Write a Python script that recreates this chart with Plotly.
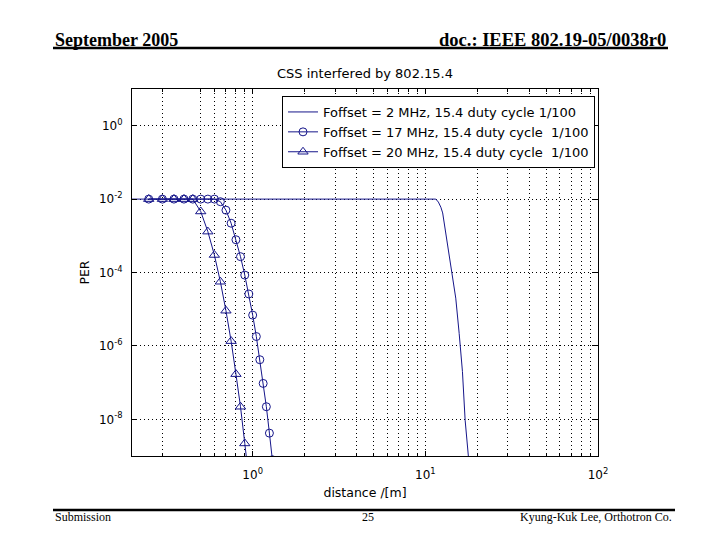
import plotly.graph_objects as go

# ---------------- data ----------------
# Foffset = 2 MHz (line only)
dist_2mhz = [0.2, 11.5, 11.9, 12.3, 12.6, 13.4, 14.2, 15.0, 15.7, 16.4, 17.0, 17.9, 18.3]
per_2mhz = [1e-2, 1e-2, 8.3e-3, 6.0e-3, 4.2e-3, 6.3e-4, 9.5e-5, 2.0e-5, 2.2e-6, 2.0e-7, 9.5e-9, 1.0e-9, 2.0e-10]

# Foffset = 17 MHz (circles)
dist_17mhz = [0.25, 0.30, 0.35, 0.40, 0.45, 0.50, 0.55, 0.60, 0.65, 0.70, 0.75, 0.80,
              0.85, 0.90, 0.95, 1.00, 1.05, 1.10, 1.15, 1.20, 1.25, 1.30]
per_17mhz = [1e-2, 1e-2, 1e-2, 1e-2, 1e-2, 1e-2, 1e-2, 1e-2, 8.5e-3, 5.0e-3, 2.2e-3, 7.8e-4,
             2.7e-4, 8.5e-5, 2.6e-5, 6.9e-6, 1.8e-6, 4.2e-7, 9.5e-8, 2.2e-8, 4.2e-9, 7.9e-10]

# Foffset = 20 MHz (triangles)
dist_20mhz = [0.25, 0.30, 0.35, 0.40, 0.45, 0.50, 0.55, 0.60, 0.65, 0.70, 0.75, 0.80,
              0.85, 0.90, 0.95]
per_20mhz = [1e-2, 1e-2, 1e-2, 1e-2, 1e-2, 4.6e-3, 1.3e-3, 3.0e-4, 5.6e-5, 9.1e-6, 1.35e-6, 1.7e-7,
             2.2e-8, 2.2e-9, 2.5e-10]

series_names = [
    "Foffset = 2 MHz, 15.4 duty cycle 1/100",
    "Foffset = 17 MHz, 15.4 duty cycle\u00a0 1/100",
    "Foffset = 20 MHz, 15.4 duty cycle\u00a0 1/100",
]

x_tickvals = [1, 10, 100]
x_ticktext = ["10<sup>0</sup>", "10<sup>1</sup>", "10<sup>2</sup>"]
x_minorvals = [0.3, 0.5, 0.6, 0.7, 0.8, 0.9, 2, 3, 4, 5, 6, 7, 8, 9, 20, 30, 40, 50, 60, 70, 80, 90]
y_tickvals = [1, 1e-2, 1e-4, 1e-6, 1e-8]
y_ticktext = ["10<sup>0</sup>", "10<sup>-2</sup>", "10<sup>-4</sup>", "10<sup>-6</sup>", "10<sup>-8</sup>"]

# ---------------- figure ----------------
BLUE = "#16168a"
W, H = 720, 540
L, R, T, B = 132, 122, 89, 84
PW, PH = W - L - R, H - T - B


def px(xp):
    return (xp - L) / PW


def py(yp):
    return (H - B - yp) / PH


fig = go.Figure()
fig.add_trace(go.Scatter(x=dist_2mhz, y=per_2mhz, mode="lines", name=series_names[0],
                         line=dict(color=BLUE, width=1)))
fig.add_trace(go.Scatter(x=dist_17mhz, y=per_17mhz, mode="lines+markers", name=series_names[1],
                         line=dict(color=BLUE, width=1),
                         marker=dict(symbol="circle-open", size=8, color=BLUE, line=dict(width=1, color=BLUE))))
fig.add_trace(go.Scatter(x=dist_20mhz, y=per_20mhz, mode="lines+markers", name=series_names[2],
                         line=dict(color=BLUE, width=1),
                         marker=dict(symbol="triangle-up-open", size=9, color=BLUE, line=dict(width=1, color=BLUE))))

SANS = "DejaVu Sans, Verdana, sans-serif"
tick_font = dict(family=SANS, size=12, color="black")
label_font = dict(family=SANS, size=12.5, color="black")
GRID_DASH = "1px,3px"

fig.update_xaxes(
    type="log", range=[-0.69897, 2], tickmode="array", tickvals=x_tickvals, ticktext=x_ticktext,
    showline=True, linecolor="black", linewidth=1, mirror="allticks",
    ticks="inside", ticklen=5, tickcolor="black",
    showgrid=True, gridcolor="black", griddash=GRID_DASH, gridwidth=1,
    minor=dict(tickmode="array", tickvals=x_minorvals, ticks="inside", ticklen=3, tickcolor="black",
               showgrid=True, gridcolor="black", griddash=GRID_DASH, gridwidth=1),
    tickfont=tick_font, zeroline=False, ticklabelstandoff=8,
    title=dict(text="distance /[m]", font=label_font, standoff=6),
)
fig.update_yaxes(
    type="log", range=[-9, 1], tickmode="array", tickvals=y_tickvals, ticktext=y_ticktext,
    showline=True, linecolor="black", linewidth=1, mirror="allticks",
    ticks="inside", ticklen=5, tickcolor="black",
    showgrid=True, gridcolor="black", griddash=GRID_DASH, gridwidth=1,
    tickfont=tick_font, zeroline=False, ticklabelstandoff=6,
    title=dict(text="PER", font=label_font, standoff=6),
)

serif = "Liberation Serif, Times New Roman, serif"
annotations = [
    dict(text="CSS interfered by 802.15.4", x=0.5, y=py(73), xanchor="center", yanchor="middle",
         font=dict(family=SANS, size=13, color="black")),
    dict(text="<b>September 2005</b>", x=px(53), y=py(40), xanchor="left", yanchor="middle",
         font=dict(family=serif, size=18, color="black")),
    dict(text="<b>doc.: IEEE 802.19-05/0038r0</b>", x=px(668), y=py(40), xanchor="right", yanchor="middle",
         font=dict(family=serif, size=18.5, color="black")),
    dict(text="Submission", x=px(53), y=py(517), xanchor="left", yanchor="middle",
         font=dict(family=serif, size=12, color="black")),
    dict(text="25", x=px(368), y=py(517), xanchor="center", yanchor="middle",
         font=dict(family=serif, size=12, color="black")),
    dict(text="Kyung-Kuk Lee, Orthotron Co.", x=px(674), y=py(517), xanchor="right", yanchor="middle",
         font=dict(family=serif, size=12, color="black")),
]
for a in annotations:
    a.update(xref="paper", yref="paper", showarrow=False)

shapes = [
    dict(type="line", xref="paper", yref="paper", x0=px(53), x1=px(668), y0=py(48), y1=py(48),
         line=dict(color="black", width=2.5)),
    dict(type="line", xref="paper", yref="paper", x0=px(53), x1=px(675), y0=py(510), y1=py(510),
         line=dict(color="black", width=2.5)),
]

fig.update_layout(
    width=W, height=H, margin=dict(l=L, r=R, t=T, b=B),
    paper_bgcolor="white", plot_bgcolor="white",
    annotations=annotations, shapes=shapes,
    legend=dict(x=px(595), y=py(96), xanchor="right", yanchor="top",
                bgcolor="white", bordercolor="black", borderwidth=1,
                font=dict(family=SANS, size=13, color="black"),
                tracegroupgap=0, itemwidth=30),
    showlegend=True,
)

fig.write_html("out.html", config={"displayModeBar": False},
               post_script="document.body.style.margin='0px';")
